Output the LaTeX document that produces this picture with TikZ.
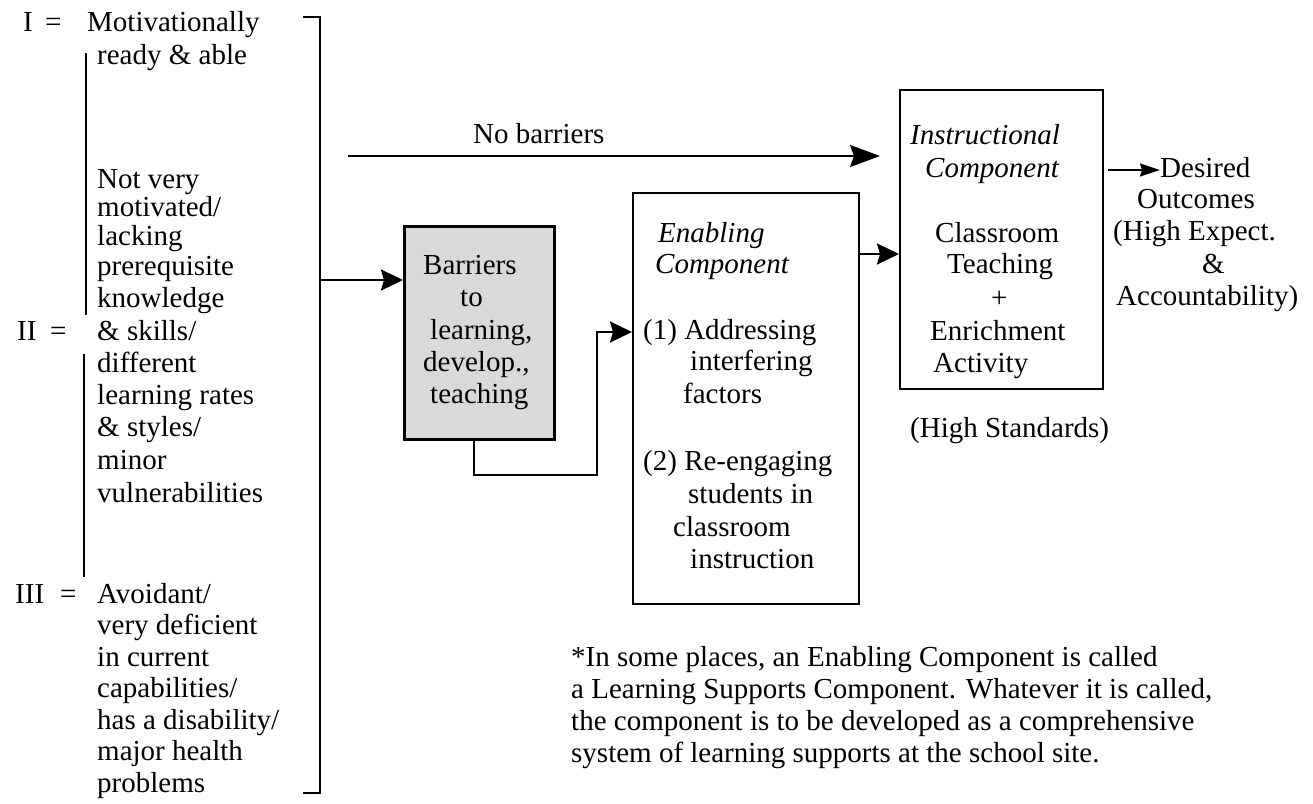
\documentclass[tikz,border=0pt]{standalone}
\usepackage{fontspec}
\setmainfont{Liberation Serif}
\usetikzlibrary{arrows.meta}
\newcommand\fsz{\fontsize{29}{32}\selectfont}
\begin{document}
\begin{tikzpicture}[x=1pt,y=-1pt,
  txt/.style={inner sep=0pt, anchor=base west, font=\fsz},
  itx/.style={txt, font=\fsz\itshape},
  boxw/.style={draw, inner sep=0pt, anchor=north west, line width=1.8pt},
  boxg/.style={draw, inner sep=0pt, anchor=north west, line width=3.3pt, fill=gray!30},
  arr/.style={line width=2.6pt, -{Stealth[length=22pt,width=21pt,inset=3pt]}},
  arrn/.style={line width=1.8pt, -{Stealth[length=30pt,width=22pt,inset=4pt]}},
  arrs/.style={line width=1.8pt, -{Stealth[length=20pt,width=13pt,inset=2pt]}},
  brk/.style={line width=2.5pt},
  vline/.style={line width=2pt}]
\useasboundingbox (0,0) rectangle (1313,803);

% boxes
\node[boxg, minimum width=150pt, minimum height=213pt] (bar) at (403,225) {};
\node[boxw, minimum width=226pt, minimum height=411pt] (ena) at (632,192) {};
\node[boxw, line width=2pt, minimum width=203pt, minimum height=299pt] (ins) at (899,89) {};

% left column
\node[txt] (l1a) at (23,31.5) {I};
\node[txt] (l1b) at (45,31.5) {=};
\node[txt] (l1c) at (87,31.5) {Motivationally};
\node[txt] (l2) at (97,64) {ready \& able};
\node[txt] (l3) at (97,188) {Not very};
\node[txt] (l4) at (97,216) {motivated/};
\node[txt] (l5) at (97,245) {lacking};
\node[txt] (l6) at (97,275) {prerequisite};
\node[txt] (l7) at (97,307) {knowledge};
\node[txt] (l8a) at (17,340) {II};
\node[txt] (l8b) at (50,340) {=};
\node[txt] (l8c) at (97,340) {\& skills/};
\node[txt] (l9) at (97,372) {different};
\node[txt] (l10) at (97,404) {learning rates};
\node[txt] (l11) at (97,436) {\& styles/};
\node[txt] (l12) at (97,469) {minor};
\node[txt] (l13) at (97,502) {vulnerabilities};
\node[txt] (l14a) at (15,603) {III};
\node[txt] (l14b) at (60,603) {=};
\node[txt] (l14c) at (97,603) {Avoidant/};
\node[txt] (l15) at (97,634.5) {very deficient};
\node[txt] (l16) at (97,666) {in current};
\node[txt] (l17) at (97,697.5) {capabilities/};
\node[txt] (l18) at (97,729) {has a disability/};
\node[txt] (l19) at (97,760.5) {major health};
\node[txt] (l20) at (97,792) {problems};
\draw[vline] (86,53) -- (86,315);
\draw[vline] (84,354) -- (84,577);

% bracket
\coordinate (bt) at (320,17);
\coordinate (bb) at (320,793);
\draw[brk] ([xshift=-17pt]bt) -- (bt) -- (bb) -- ([xshift=-17pt]bb);

% barriers box text
\node[txt] (b1) at (423,274) {Barriers};
\node[txt] (b2) at (460,306.5) {to};
\node[txt] (b3) at (430,339) {learning,};
\node[txt] (b4) at (423,371) {develop.,};
\node[txt] (b5) at (430,403) {teaching};

% enabling text
\node[itx] (e1) at (658,242) {Enabling};
\node[itx] (e2) at (655,273) {Component};
\node[txt] (e3) at (643,339) {(1) Addressing};
\node[txt] (e4) at (690,370) {interfering};
\node[txt] (e5) at (683,403) {factors};
\node[txt] (e6) at (643,470) {(2) Re-engaging};
\node[txt] (e7) at (688,503) {students in};
\node[txt] (e8) at (673,536) {classroom};
\node[txt] (e9) at (690,568) {instruction};

% instructional text
\node[itx] (i1) at (910,144) {Instructional};
\node[itx] (i2) at (925,177) {Component};
\node[txt] (i3) at (935,242) {Classroom};
\node[txt] (i4) at (947,273) {Teaching};
\node[txt] (i5) at (991,307) {+};
\node[txt] (i6) at (930,340) {Enrichment};
\node[txt] (i7) at (933,372) {Activity};
\node[txt] (hs) at (910,437) {(High Standards)};

% outcomes
\node[txt] (des) at (1160,177) {Desired};
\node[txt] (o2) at (1137,208) {Outcomes};
\node[txt] (o3) at (1113,240) {(High Expect.};
\node[txt] (o4) at (1202,273) {\&};
\node[txt] (o5) at (1116,305) {Accountability)};

% no barriers
\node[txt] (nbt) at (473,143) {No barriers};
\coordinate (nb) at (348,156);
\draw[arrn] (nb) -- ([xshift=-19pt]nb -| ins.west);

% footnote
\node[txt] (f1) at (571,666) {*In some places, an Enabling Component is called};
\node[txt] (f2) at (571,698) {a Learning Supports Component. Whatever it is called,};
\node[txt] (f3) at (571,730) {the component is to be developed as a comprehensive};
\node[txt] (f4) at (571,762) {system of learning supports at the school site.};

% connectors
\coordinate (bj) at (320,280);
\draw[arr] (bj) -- (bj -| bar.west);
\coordinate (c1) at (474,475);
\coordinate (c2) at (597,332);
\draw[arr] (c1 |- bar.south) -- (c1) -| (c2) -- (c2 -| ena.west);
\coordinate (c3) at (860,254);
\draw[arr] (c3 -| ena.east) -- (c3 -| ins.west);
\coordinate (c4) at (1106,170);
\draw[arrs] ([xshift=4pt]c4 -| ins.east) -- (c4 -| des.west);
\end{tikzpicture}
\end{document}
